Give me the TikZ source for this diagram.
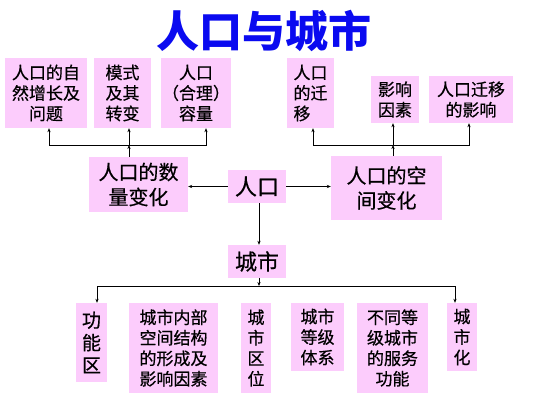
\documentclass[tikz,border=0pt]{standalone}
\usepackage{fontspec}
\usetikzlibrary{arrows.meta, positioning, calc}
\newfontfamily\cjk[FakeBold=0.5]{Noto Sans CJK SC}
\newfontfamily\cjktitle{Noto Sans CJK SC}
\definecolor{boxpink}{HTML}{FCCCFC}
\definecolor{titleblue}{HTML}{0A0AF0}

\begin{document}
\begin{tikzpicture}[x=1pt, y=-1pt,
  pinkbox/.style={fill=boxpink, inner sep=0pt, align=center},
  smallbox/.style={pinkbox, font=\cjk\fontsize{17}{20.5}\selectfont},
  bigbox/.style={pinkbox, font=\cjk\fontsize{20}{25}\selectfont},
  arr/.style={-{Stealth[length=4pt,width=3.2pt]}, line width=0.6pt}]
  \useasboundingbox (0,0) rectangle (536,402);

  % Title
  \node[font=\cjktitle\bfseries\fontsize{43}{43}\selectfont, text=titleblue] (title) at (264,31) {人口与城市};

  % Top row
  \node[smallbox, minimum width=82, minimum height=70] (natural) at (46,93) {人口的自\\然增长及\\问题};
  \node[smallbox, minimum width=57, minimum height=70] (mode) at (122.5,93) {模式\\及其\\转变};
  \node[smallbox, minimum width=70, minimum height=70] (capacity) at (196,93) {人口\\（合理）\\容量};
  \node[smallbox, align=left, minimum width=47, minimum height=70] (migrate) at (310.5,93) {人口\\的迁\\移};
  \node[smallbox, minimum width=48, minimum height=47] (factor) at (395,99.5) {影响\\因素};
  \node[smallbox, minimum width=84, minimum height=47] (effect) at (471,99.5) {人口迁移\\的影响};

  % Middle row
  \node[bigbox, minimum width=99, minimum height=55] (qty) at (138.5,184.5) {人口的数\\量变化};
  \node[pinkbox, font=\cjk\fontsize{22}{25}\selectfont, minimum width=58, minimum height=33] (pop) at (257,186.5) {人口};
  \node[bigbox, minimum width=111, minimum height=64] (spa) at (386.5,188) {人口的空\\间变化};
  \node[pinkbox, font=\cjk\fontsize{22}{25}\selectfont, minimum width=58, minimum height=33] (city) at (257,261.5) {城市};

  % Bottom row
  \node[pinkbox, font=\cjk\fontsize{19}{22.5}\selectfont, minimum width=31, minimum height=79] (func) at (91.5,342.5) {功\\能\\区};
  \node[smallbox, minimum width=89, minimum height=90] (inner) at (173.5,348) {城市内部\\空间结构\\的形成及\\影响因素};
  \node[smallbox, minimum width=30, minimum height=90] (location) at (256,348) {城\\市\\区\\位};
  \node[smallbox, minimum width=53, minimum height=68] (hierarchy) at (317.5,337) {城市\\等级\\体系};
  \node[smallbox, minimum width=71, minimum height=90] (service) at (392.5,348) {不同等\\级城市\\的服务\\功能};
  \node[smallbox, minimum width=30, minimum height=68] (urbanize) at (462,337) {城\\市\\化};

  % Joints
  \coordinate (qtyjoin) at (129,145);
  \coordinate (spajoin) at (393,145);
  \coordinate (cityjoin) at (259,286);

  % Connectors
  \draw[arr] (pop.west) -- (qty.east |- pop.west);
  \draw[arr] (pop.east) -- (spa.west |- pop.east);
  \draw[arr] (pop.south -| cityjoin) -- (city.north -| cityjoin);

  \draw[arr] (qty.north -| qtyjoin) -- (qtyjoin);
  \draw[arr] (qtyjoin) -| ([xshift=3pt]natural.south);
  \draw[arr] (qtyjoin) -- (qtyjoin |- mode.south);
  \draw[arr] (qtyjoin) -| ([xshift=10pt]capacity.south);

  \draw[arr] (spa.north -| spajoin) -- (spajoin);
  \draw[arr] (spajoin) -| ([xshift=2.5pt]migrate.south);
  \draw[arr] (spajoin) -- (spajoin |- factor.south);
  \draw[arr] (spajoin) -| ([xshift=-2pt]effect.south);

  \draw[arr] (city.south -| cityjoin) -- (cityjoin);
  \draw[arr] (cityjoin) -| ([xshift=5.5pt]func.north);
  \draw[arr] (cityjoin) -| ([xshift=-7pt]urbanize.north);
\end{tikzpicture}
\end{document}
